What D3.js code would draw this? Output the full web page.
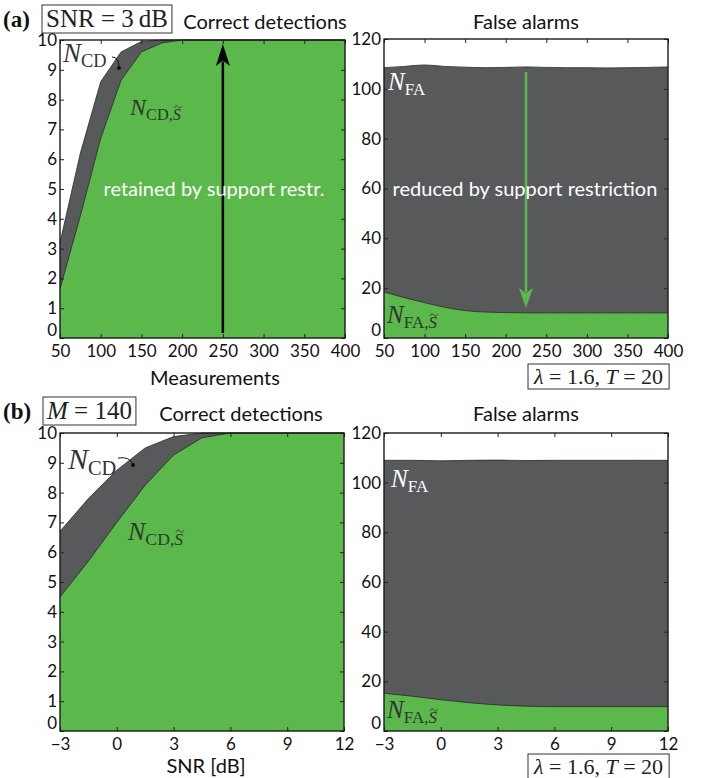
<!DOCTYPE html>
<html><head><meta charset="utf-8">
<script src="https://cdn.jsdelivr.net/npm/d3@7"></script>
<style>
body{margin:0;background:#fff;}
svg{display:block;}
</style></head>
<body>
<svg id="c" width="708" height="778"></svg>
<script>
// ---- data ----
const measurements = [50,75,100,125,150,175,200,225,250,275,300,325,350,375,400];
const cdTop   = [3.2,6.2,8.6,9.6,9.95,10,10,10,10,10,10,10,10,10,10];
const cdSTop  = [1.65,4.1,6.7,8.65,9.6,9.9,10,10,10,10,10,10,10,10,10];
const faTop   = [108.5,109,109.6,109,108.7,108.5,108.6,108.8,108.6,108.5,108.5,108.4,108.5,108.6,108.8];
const faSTop  = [18.5,16.2,14.2,12.3,11.0,10.4,10.2,10.1,10.1,10.1,10.1,10.1,10.1,10.1,10.1];

const snr     = [-3,-1.5,0,1.5,3,4.5,6,7.5,9,10.5,12];
const cdBot   = [6.7,7.8,8.75,9.5,9.88,10,10,10,10,10,10];
const cdSBot  = [4.5,5.7,7.0,8.25,9.26,9.84,10,10,10,10,10];
const faBot   = [109,109,108.8,109,109.1,108.9,109,109,109,109,109];
const faSBot  = [15.2,14.0,12.6,11.4,10.5,10.0,9.8,9.8,9.8,9.8,9.8];

const measTicks = [50,100,150,200,250,300,350,400];
const snrTicks = [-3,0,3,6,9,12];
const cdTicks = [0,1,2,3,4,5,6,7,8,9,10];
const faTicks = [0,20,40,60,80,100,120];

// ---- style ----
const GREEN = "#5bb84a", DARK = "#58595b", SANS = "Lato, 'Open Sans', sans-serif", SERIF = "'Liberation Serif', 'DejaVu Serif', serif";
const svg = d3.select("#c");

function panel(o){
  const x = d3.scaleLinear().domain(o.xd).range([o.x0, o.x1]);
  const y = d3.scaleLinear().domain(o.yd).range([o.y1, o.y0]);
  const g = svg.append("g");
  const rows = o.xs.map((v,i)=>({x:v, a:o.upper[i], b:o.lower[i]}));
  const curve = o.smooth ? d3.curveMonotoneX : d3.curveLinear;
  const areaU = d3.area().curve(curve).x(d=>x(d.x)).y0(y(0)).y1(d=>y(d.a));
  const areaL = d3.area().curve(curve).x(d=>x(d.x)).y0(y(0)).y1(d=>y(d.b));
  const lineU = d3.line().curve(curve).x(d=>x(d.x)).y(d=>y(d.a));
  const lineL = d3.line().curve(curve).x(d=>x(d.x)).y(d=>y(d.b));
  g.append("path").attr("d", areaU(rows)).attr("fill", DARK);
  g.append("path").attr("d", areaL(rows)).attr("fill", GREEN);
  g.append("path").attr("d", lineU(rows)).attr("fill","none").attr("stroke","#2a2a2a").attr("stroke-width",0.8);
  g.append("path").attr("d", lineL(rows)).attr("fill","none").attr("stroke","#2a2a2a").attr("stroke-width",0.8);
  const xa = d3.axisBottom(x).tickValues(o.xt).tickSize(-4).tickPadding(7).tickFormat(d=> d<0 ? "\u2212"+Math.abs(d) : d);
  const xt = d3.axisTop(x).tickValues(o.xt).tickSize(-4).tickFormat("");
  const ya = d3.axisLeft(y).tickValues(o.yt).tickSize(-4).tickPadding(3);
  const yr = d3.axisRight(y).tickValues(o.yt).tickSize(-4).tickFormat("");
  const sels = [[xa,`translate(0,${o.y1})`],[xt,`translate(0,${o.y0})`],[ya,`translate(${o.x0},0)`],[yr,`translate(${o.x1},0)`]].map(([a,t])=>{
    const s = g.append("g").attr("transform",t).call(a);
    s.select(".domain").remove();
    s.selectAll("text").attr("font-family",SANS).attr("font-size",17).attr("fill","#111");
    s.selectAll("line").attr("stroke","#222");
    return s;
  });
  // lift the corner "0" label slightly so it does not collide with the first x label
  sels[2].selectAll(".tick").filter(d=>d===0).select("text").attr("dy","-0.12em");
  g.append("rect").attr("x",o.x0).attr("y",o.y0).attr("width",o.x1-o.x0).attr("height",o.y1-o.y0)
   .attr("fill","none").attr("stroke","#1a1a1a").attr("stroke-width",1.4);
  return {x,y,g};
}

function tildePath(cx, cy, w, color){
  const h = w*0.22;
  svg.append("path")
    .attr("d",`M${cx-w/2},${cy+h*0.6} C${cx-w/3},${cy-h} ${cx-w/8},${cy-h} ${cx},${cy} S${cx+w/3},${cy+h} ${cx+w/2},${cy-h*0.6}`)
    .attr("fill","none").attr("stroke",color).attr("stroke-width",0.9);
}

function mathLabel(x, y, base, sub, size, color, tilde){
  const t = svg.append("text").attr("x",x).attr("y",y).attr("font-family",SERIF).attr("fill",color);
  t.append("tspan").attr("font-style","italic").attr("font-size",size).text(base);
  t.append("tspan").attr("font-size",size*0.68).attr("dy",size*0.2).text(sub);
  if(tilde){
    t.append("tspan").attr("font-size",size*0.68).text(",");
    const sp = t.append("tspan").attr("font-size",size*0.68).attr("font-style","italic").text("S");
    const bb = sp.node().getExtentOfChar(0);
    tildePath(bb.x+bb.width/2+1.2, bb.y+2, size*0.3, color);
  }
  return t;
}

function boxedText(x, y, txt, size, padX, h, dy){
  const t = svg.append("text").attr("x",x).attr("y",y).attr("font-family",SERIF).attr("font-size",size).attr("fill","#222");
  txt.forEach(p=>{ t.append("tspan").attr("font-style",p.i?"italic":"normal").text(p.s); });
  const w = t.node().getComputedTextLength();
  svg.append("rect").attr("x",x-padX).attr("y",y-h+dy).attr("width",w+2*padX).attr("height",h)
    .attr("fill","none").attr("stroke","#333").attr("stroke-width",1);
}

function arrow(x, yFrom, yTo, color, hw, hl, sw){
  const dir = Math.sign(yTo-yFrom);
  svg.append("line").attr("x1",x).attr("x2",x).attr("y1",yFrom).attr("y2",yTo - dir*hl*0.8)
    .attr("stroke",color).attr("stroke-width",sw);
  svg.append("path").attr("d",`M${x},${yTo} L${x-hw/2},${yTo-dir*hl} L${x},${yTo-dir*hl*0.75} L${x+hw/2},${yTo-dir*hl} Z`).attr("fill",color);
}

// ---- (a) ----
const pA = panel({x0:60,x1:345,y0:40,y1:338,xd:[50,400],yd:[0,10],xs:measurements,upper:cdTop,lower:cdSTop,xt:measTicks,yt:cdTicks});
const pB = panel({x0:384,x1:668,y0:39,y1:338,xd:[50,400],yd:[0,120],xs:measurements,upper:faTop,lower:faSTop,xt:measTicks,yt:faTicks,smooth:true});
// ---- (b) ----
const pC = panel({x0:60,x1:344,y0:433,y1:731,xd:[-3,12],yd:[0,10],xs:snr,upper:cdBot,lower:cdSBot,xt:snrTicks,yt:cdTicks});
const pD = panel({x0:384,x1:668,y0:433,y1:731,xd:[-3,12],yd:[0,120],xs:snr,upper:faBot,lower:faSBot,xt:snrTicks,yt:faTicks,smooth:true});

// arrows
arrow(pA.x(250), 333, 44, "#000", 14, 22, 2.5);
arrow(pB.x(225), 72, 308, GREEN, 14, 20, 2.5);

// in-plot texts
svg.append("text").attr("x",214).attr("y",196).attr("text-anchor","middle").attr("font-family",SANS).attr("font-size",20).attr("fill","#fff").text("retained by support restr.");
svg.append("text").attr("x",525).attr("y",196).attr("text-anchor","middle").attr("font-family",SANS).attr("font-size",20).attr("fill","#fff").text("reduced by support restriction");

// math labels
mathLabel(63, 62, "N", "CD", 27, "#333");
mathLabel(130, 115, "N", "CD", 24, "#2e3a2b", true);
mathLabel(388, 90, "N", "FA", 25, "#fff");
mathLabel(387, 323, "N", "FA", 25, "#333", true);
mathLabel(68, 469, "N", "CD", 30, "#333");
mathLabel(128, 540, "N", "CD", 26, "#2e3a2b", true);
mathLabel(391, 487, "N", "FA", 25, "#fff");
mathLabel(387, 718, "N", "FA", 25, "#333", true);

// pointers
svg.append("path").attr("d","M112,57 Q119,57 119,68").attr("fill","none").attr("stroke","#111").attr("stroke-width",1);
svg.append("circle").attr("cx",119).attr("cy",68).attr("r",2).attr("fill","#111");
svg.append("path").attr("d","M118,458 Q130,456 133,465").attr("fill","none").attr("stroke","#111").attr("stroke-width",1);
svg.append("circle").attr("cx",133).attr("cy",465).attr("r",2).attr("fill","#111");

// titles
const title = (x,y,t)=>svg.append("text").attr("x",x).attr("y",y).attr("text-anchor","middle").attr("font-family",SANS).attr("font-size",20).attr("fill","#111").text(t);
title(265,29,"Correct detections");
title(526,29,"False alarms");
title(241,421,"Correct detections");
title(526,421,"False alarms");
title(215,385,"Measurements");
title(206,773,"SNR [dB]");

// panel letters and boxes
svg.append("text").attr("x",3).attr("y",27).attr("font-family",SERIF).attr("font-weight","bold").attr("font-size",23).attr("fill","#111").text("(a)");
boxedText(46, 27, [{s:"SNR = 3\u2009dB"}], 25, 4, 28, 6);
svg.append("text").attr("x",3).attr("y",419).attr("font-family",SERIF).attr("font-weight","bold").attr("font-size",23).attr("fill","#111").text("(b)");
boxedText(47, 419, [{s:"M",i:true},{s:" = 140"}], 25, 4, 28, 6);
boxedText(534, 384, [{s:"\u03bb",i:true},{s:" = 1.6, "},{s:"T",i:true},{s:" = 20"}], 22, 6, 25, 5);
boxedText(534, 774, [{s:"\u03bb",i:true},{s:" = 1.6, "},{s:"T",i:true},{s:" = 20"}], 22, 6, 25, 5);
</script>
</body></html>
